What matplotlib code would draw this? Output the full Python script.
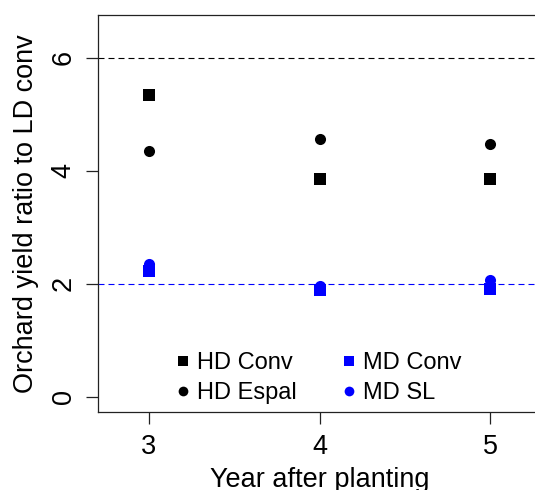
import matplotlib
matplotlib.use("Agg")
import matplotlib.pyplot as plt
from matplotlib.lines import Line2D

plt.rcParams['font.family'] = ['Liberation Sans', 'DejaVu Sans']

# values
years = [3, 4, 5]
hd_conv = [5.34, 3.85, 3.85]
hd_espal = [4.36, 4.56, 4.47]
md_conv = [2.22, 1.89, 1.90]
md_sl = [2.36, 1.96, 2.06]
hd_ref = 6
md_ref = 2
yticks = [0, 2, 4, 6]

W, H = 535, 490
fig = plt.figure(figsize=(W / 100, H / 100), dpi=100)
# axes box runs past the right edge of the image, like the reference crop
ax = fig.add_axes([97.7 / W, (H - 411.5) / H, 444 / W, (411.5 - 15) / H])
ax.set_xlim(2.7, 5.3)
ax.set_ylim(-0.26, 6.76)

ax.axhline(hd_ref, color='black', lw=0.8, ls=(0, (5.4, 3.6)))
ax.axhline(md_ref, color='blue', lw=0.8, ls=(0, (5.4, 3.6)))

ax.plot(years, hd_conv, 's', color='black', ms=8.4, mew=0)
ax.plot(years, hd_espal, 'o', color='black', ms=8.0, mew=0)
ax.plot(years, md_conv, 's', color='blue', ms=8.4, mew=0)
ax.plot(years, md_sl, 'o', color='blue', ms=8.0, mew=0)

for s in ax.spines.values():
    s.set_linewidth(0.9)
    s.set_color('#222222')

ax.set_xticks(years)
ax.set_yticks(yticks)
ax.tick_params(axis='both', length=8.5, width=0.9, color='#222222', labelsize=19.5)
ax.tick_params(axis='x', pad=8)
ax.tick_params(axis='y', pad=6.5)
for lab in ax.get_yticklabels():
    lab.set_rotation(90)
    lab.set_va('center')

ax.set_xlabel('Year after planting', fontsize=19.5, labelpad=5)
ax.set_ylabel('Orchard yield ratio to LD conv', fontsize=19.5, labelpad=8.5)

handles = [
    Line2D([], [], ls='none', marker='s', color='black', ms=7, mew=0),
    Line2D([], [], ls='none', marker='o', color='black', ms=7, mew=0),
    Line2D([], [], ls='none', marker='s', color='blue', ms=7, mew=0),
    Line2D([], [], ls='none', marker='o', color='blue', ms=7, mew=0),
]
labels = ['HD Conv', 'HD Espal', 'MD Conv', 'MD SL']
ax.legend(handles, labels, ncol=2, frameon=False, fontsize=17,
          loc='upper left', bbox_to_anchor=(176 / W, (H - 352) / H),
          bbox_transform=fig.transFigure, borderpad=0, borderaxespad=0,
          handlelength=0.6, handletextpad=0.27, columnspacing=1.95,
          labelspacing=0.33)

fig.savefig('out.png', dpi=100)
